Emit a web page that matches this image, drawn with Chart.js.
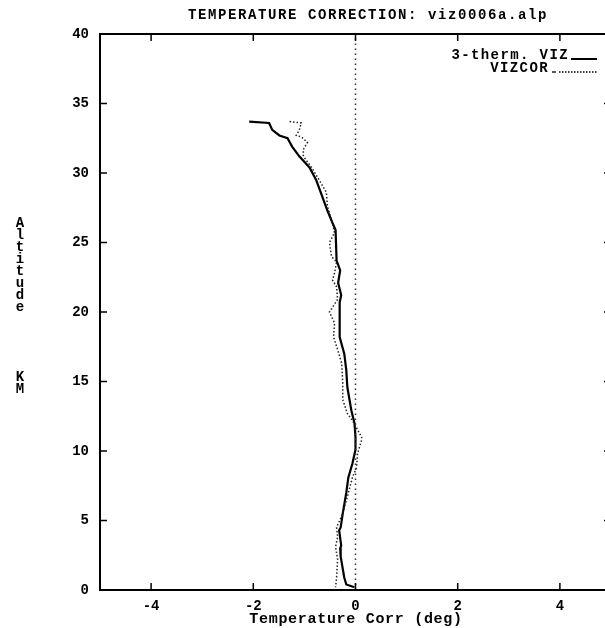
<!DOCTYPE html>
<html>
<head>
<meta charset="utf-8">
<script src="https://cdn.jsdelivr.net/npm/chart.js@4"></script>
<style>
  html, body { margin: 0; padding: 0; overflow: hidden; background: #fff; }
  canvas { display: block; }
</style>
</head>
<body>
<canvas id="grafica" width="612" height="628"></canvas>
<script>
// 3-therm. VIZ (solid)
const vizAlt  = [33.7, 33.6, 33.1, 32.7, 32.5, 31.9, 31.2, 30.4, 29.5, 28.3, 27.3, 26.4, 25.9, 23.7, 23.0, 22.1, 21.2, 20.7, 18.2, 17.0, 15.8, 14.6, 12.9, 12.0, 11.0, 10.1, 9.1, 8.1, 7.0, 5.5, 4.5, 4.3, 3.2, 3.0, 2.4, 0.9, 0.4, 0.2];
const vizCorr = [-2.08, -1.69, -1.63, -1.49, -1.33, -1.24, -1.10, -0.90, -0.77, -0.65, -0.55, -0.45, -0.39, -0.37, -0.30, -0.34, -0.28, -0.31, -0.31, -0.22, -0.18, -0.16, -0.08, -0.02, 0.0, 0.0, -0.06, -0.14, -0.18, -0.25, -0.29, -0.32, -0.28, -0.30, -0.29, -0.22, -0.18, -0.02];

// VIZCOR (dotted)
const corAlt  = [33.7, 33.6, 33.1, 32.7, 32.6, 32.2, 31.7, 31.2, 30.4, 29.5, 28.6, 27.6, 26.4, 25.7, 25.0, 24.0, 23.6, 22.8, 22.3, 21.8, 20.9, 20.0, 19.2, 18.2, 17.3, 16.3, 14.9, 13.7, 12.7, 12.2, 11.0, 10.8, 9.8, 8.8, 8.1, 6.7, 5.5, 4.5, 3.8, 3.1, 2.2, 0.9, 0.2];
const corCorr = [-1.29, -1.06, -1.10, -1.16, -1.06, -0.94, -1.02, -1.02, -0.86, -0.71, -0.57, -0.55, -0.45, -0.41, -0.51, -0.47, -0.37, -0.41, -0.45, -0.37, -0.35, -0.51, -0.41, -0.43, -0.35, -0.27, -0.25, -0.25, -0.16, -0.06, 0.12, 0.12, 0.04, 0.02, -0.06, -0.16, -0.25, -0.37, -0.35, -0.39, -0.35, -0.37, -0.39];

// zero reference line
const zeroLine = [{ x: 0, y: 0 }, { x: 0, y: 40 }];

const xTicks = [-4, -2, 0, 2, 4];
const yTicks = [0, 5, 10, 15, 20, 25, 30, 35, 40];

const titulo = "TEMPERATURE CORRECTION: viz0006a.alp";
const xTitulo = "Temperature Corr (deg)";
const legendas = ["3-therm. VIZ", "VIZCOR"];

const pares = (xs, ys) => xs.map((v, i) => ({ x: ys[i], y: v }));

const mono = "'Liberation Mono', 'DejaVu Sans Mono', monospace";

// frame, inward ticks, texts
const extras = {
    id: "extras",
    afterDraw(chart) {
        const ctx = chart.ctx;
        const a = chart.chartArea;
        const sx = chart.scales.x, sy = chart.scales.y;
        ctx.save();
        ctx.strokeStyle = "#000";
        ctx.lineWidth = 2;
        ctx.beginPath();
        ctx.moveTo(a.left, a.top); ctx.lineTo(a.right, a.top);
        ctx.moveTo(a.right, a.top); ctx.lineTo(a.right, a.bottom);
        ctx.stroke();

        ctx.lineWidth = 1.5;
        ctx.beginPath();
        xTicks.forEach(v => {
            const px = sx.getPixelForValue(v);
            ctx.moveTo(px, a.bottom); ctx.lineTo(px, a.bottom - 7);
            ctx.moveTo(px, a.top); ctx.lineTo(px, a.top + 7);
        });
        yTicks.slice(1, -1).forEach(v => {
            const py = sy.getPixelForValue(v);
            ctx.moveTo(a.left, py); ctx.lineTo(a.left + 7, py);
            ctx.moveTo(a.right, py); ctx.lineTo(a.right - 7, py);
        });
        ctx.stroke();

        ctx.fillStyle = "#000";
        ctx.textBaseline = "middle";

        // title
        ctx.font = "bold 14px " + mono;
        ctx.letterSpacing = "1.6px";
        ctx.textAlign = "center";
        ctx.fillText(titulo, 368, 15);

        // x title
        ctx.font = "bold 15px " + mono;
        ctx.letterSpacing = "0.7px";
        ctx.fillText(xTitulo, 356, 619);

        // y title, stacked letters
        ctx.font = "bold 14px " + mono;
        ctx.letterSpacing = "0px";
        "Altitude".split("").forEach((c, i) => ctx.fillText(c, 20, 223 + i * 12.1));
        ctx.fillText("K", 20, 377);
        ctx.fillText("M", 20, 389);

        // legend
        ctx.font = "bold 14px " + mono;
        ctx.letterSpacing = "1.4px";
        ctx.textAlign = "right";
        ctx.fillText(legendas[0], 569, 55);
        ctx.fillText(legendas[1], 549, 68);
        ctx.letterSpacing = "0px";
        ctx.lineWidth = 2;
        ctx.beginPath();
        ctx.moveTo(571, 59); ctx.lineTo(597, 59);
        ctx.stroke();
        ctx.lineWidth = 1.3;
        ctx.beginPath();
        ctx.moveTo(552, 72); ctx.lineTo(556, 72);
        ctx.stroke();
        ctx.setLineDash([1.5, 1.5]);
        ctx.beginPath();
        ctx.moveTo(559, 72); ctx.lineTo(597, 72);
        ctx.stroke();
        ctx.restore();
    }
};

let ctx = document.getElementById("grafica").getContext("2d");
new Chart(ctx, {
    type: "scatter",
    data: {
        datasets: [
            { label: "zero", data: zeroLine, showLine: true, borderColor: "#333", borderWidth: 1.5, borderDash: [1.5, 3.5], pointRadius: 0 },
            { label: legendas[1], data: pares(corAlt, corCorr), showLine: true, borderColor: "#222", borderWidth: 1.5, borderDash: [1.5, 2], pointRadius: 0 },
            { label: legendas[0], data: pares(vizAlt, vizCorr), showLine: true, borderColor: "#000", borderWidth: 2.2, pointRadius: 0 }
        ]
    },
    options: {
        responsive: false,
        animation: false,
        layout: { padding: { top: 34, right: 1, left: 0, bottom: 0 } },
        plugins: { legend: { display: false }, title: { display: false }, tooltip: { enabled: false } },
        scales: {
            x: {
                type: "linear", min: -5, max: 5,
                afterBuildTicks: s => { s.ticks = xTicks.map(v => ({ value: v })); },
                afterFit: s => { s.height = 38; },
                grid: { display: false, drawTicks: false },
                border: { display: true, color: "#000", width: 2 },
                ticks: { color: "#000", padding: 8, maxRotation: 0, font: { family: mono, weight: "bold", size: 14 } }
            },
            y: {
                type: "linear", min: 0, max: 40,
                afterBuildTicks: s => { s.ticks = yTicks.map(v => ({ value: v })); },
                afterFit: s => { s.width = 100; },
                grid: { display: false, drawTicks: false },
                border: { display: true, color: "#000", width: 2 },
                ticks: { color: "#000", padding: 11, font: { family: mono, weight: "bold", size: 14 } }
            }
        }
    },
    plugins: [extras]
});
</script>
</body>
</html>
